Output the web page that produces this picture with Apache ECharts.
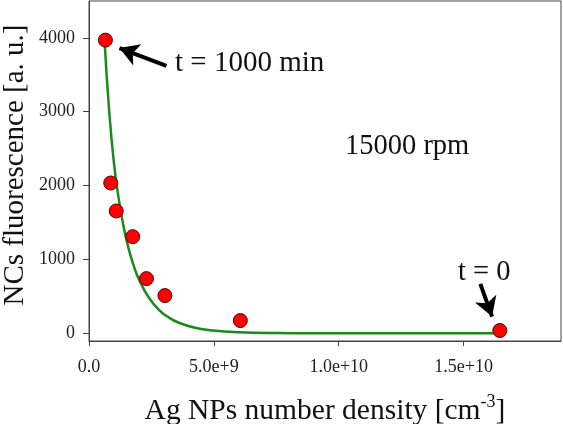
<!DOCTYPE html>
<html>
<head>
<meta charset="utf-8">
<script src="https://cdn.jsdelivr.net/npm/echarts@6/dist/echarts.min.js"></script>
<style>
html,body{margin:0;padding:0;background:#fff;}
#chart{width:563px;height:424px;}
</style>
</head>
<body>
<div id="chart"></div>
<script>
// measured points (x: number density, y: fluorescence)
var pointX = [6.56e8, 8.7e8, 1.09e9, 1.75e9, 2.3e9, 3.04e9, 6.06e9, 1.645e10];
var pointY = [3970, 2035, 1656, 1308, 740, 510, 172, 37];

// fitted curve
var curveX = [6.2e8, 8.0e8, 1.0e9, 1.2e9, 1.4e9, 1.6e9, 1.8e9, 2.0e9, 2.4e9, 2.8e9, 3.2e9, 3.6e9, 4.2e9, 4.8e9, 6.0e9, 7.5e9, 9.0e9, 1.2e10, 1.645e10];
var curveY = [3980, 3050, 2300, 1800, 1420, 1130, 905, 730, 480, 318, 212, 142, 78, 43, 13, 3, 1, 0, 0];

// tick values and labels
var xTickValues = [0, 5e9, 1e10, 1.5e10];
var xTickLabels = ['0.0', '5.0e+9', '1.0e+10', '1.5e+10'];
var yTickValues = [0, 1000, 2000, 3000, 4000];
var yTickLabels = ['0', '1000', '2000', '3000', '4000'];

// annotation arrows [start, end] in data units
var arrow1 = [[3.10e9, 3622], [1.22e9, 3862]];
var arrow2 = [[1.567e10, 668], [1.614e10, 226]];

var FONT = '"Liberation Serif", "Times New Roman", serif';

var scatterData = pointX.map(function (x, i) { return [x, pointY[i]]; });
var curveData = curveX.map(function (x, i) { return [x, curveY[i]]; });

var chart = echarts.init(document.getElementById('chart'), null, {renderer: 'canvas'});
chart.setOption({
  animation: false,
  backgroundColor: '#fff',
  grid: {
    left: 89, right: 2, top: 1, bottom: 83,
    containLabel: false, outerBoundsMode: 'none',
    show: true, borderColor: '#444', borderWidth: 1, backgroundColor: 'transparent'
  },
  xAxis: {
    type: 'value', min: 0, max: 1.89e10,
    axisLine: {show: true, onZero: false, lineStyle: {color: '#444', width: 1}},
    axisTick: {show: true, inside: false, length: 5, customValues: xTickValues, lineStyle: {color: '#444'}},
    axisLabel: {
      show: true, customValues: xTickValues, margin: 17,
      fontFamily: FONT, fontSize: 18, color: '#222',
      formatter: function (v) { var i = xTickValues.indexOf(v); return i >= 0 ? xTickLabels[i] : ''; }
    },
    splitLine: {show: false},
    name: '{a|Ag NPs number density [cm}{s|-3}{a|]}',
    nameLocation: 'middle', nameGap: 52,
    nameTextStyle: {
      rich: {
        a: {fontFamily: FONT, fontSize: 29.5, color: '#111', lineHeight: 36},
        s: {fontFamily: FONT, fontSize: 18, color: '#111', verticalAlign: 'top', lineHeight: 36, padding: [0, 0, 14, 0]}
      }
    }
  },
  yAxis: {
    type: 'value', min: -105, max: 4500,
    axisLine: {show: true, onZero: false, lineStyle: {color: '#444', width: 1}},
    axisTick: {show: true, inside: false, length: 6, customValues: yTickValues, lineStyle: {color: '#444'}},
    axisLabel: {
      show: true, customValues: yTickValues, margin: 14,
      fontFamily: FONT, fontSize: 18, color: '#222',
      formatter: function (v) { var i = yTickValues.indexOf(v); return i >= 0 ? yTickLabels[i] : ''; }
    },
    splitLine: {show: false}
  },
  graphic: [
    {type: 'text', x: 15, y: 165, rotation: Math.PI / 2,
      style: {text: 'NCs fluorescence [a. u.]', font: '29px ' + FONT, fill: '#111', align: 'center', verticalAlign: 'middle'}},
    {type: 'text', x: 175, y: 63,
      style: {text: 't = 1000 min', font: '29px ' + FONT, fill: '#111', align: 'left', verticalAlign: 'middle'}},
    {type: 'text', x: 345, y: 147,
      style: {text: '15000 rpm', font: '28.5px ' + FONT, fill: '#111', align: 'left', verticalAlign: 'middle'}},
    {type: 'text', x: 458, y: 273,
      style: {text: 't = 0', font: '28.5px ' + FONT, fill: '#111', align: 'left', verticalAlign: 'middle'}}
  ],
  series: [
    {
      type: 'line', data: curveData, showSymbol: false, smooth: 0.5,
      lineStyle: {color: '#1a8a1a', width: 2.5}, silent: true, z: 2
    },
    {
      type: 'scatter', data: scatterData, symbol: 'circle', symbolSize: 14,
      itemStyle: {color: '#ff0000', borderColor: '#5a0000', borderWidth: 1, opacity: 1},
      z: 3, silent: true,
      markLine: {
        silent: true, symbol: ['none', 'arrow'], symbolSize: [17, 19],
        label: {show: false},
        lineStyle: {color: '#000', width: 4, type: 'solid'},
        emphasis: {disabled: true},
        data: [
          [{coord: arrow1[0]}, {coord: arrow1[1]}],
          [{coord: arrow2[0]}, {coord: arrow2[1]}]
        ]
      }
    }
  ]
});
</script>
</body>
</html>
